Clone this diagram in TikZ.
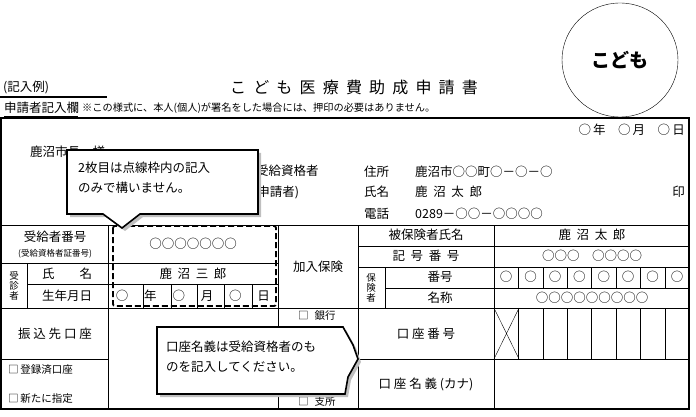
\documentclass[tikz,border=0pt]{standalone}
\usepackage{fontspec}
\setmainfont{Noto Sans CJK JP}
\usetikzlibrary{positioning}

\tikzset{
  lbl/.style={inner sep=0pt, font=\fontsize{12.5}{13}\selectfont},
  small/.style={inner sep=0pt, font=\fontsize{8.5}{9}\selectfont},
  callout/.style={draw, line width=1.6pt, fill=white},
  shade/.style={fill=black!25, draw=none}
}

\begin{document}
\begin{tikzpicture}[x=1pt,y=-1pt]
   \useasboundingbox (0,0) rectangle (696,417);

   % stamp and heading
   \draw (620,60) ellipse (58 and 57);
   \node[font=\fontsize{19}{19}\bfseries\selectfont] (kodomo) at (620,60) {こども};
   \node[lbl,anchor=west] (rei) at (3,88) {(記入例)};
   \draw[line width=1.4pt] (0,97) -- (107,97);
   \node[lbl,font=\fontsize{16}{16}\selectfont] (title) at (354,87) {こ\ \ ど\ \ も\ \ 医\ \ 療\ \ 費\ \ 助\ \ 成\ \ 申\ \ 請\ \ 書};
   \node[lbl,anchor=west] (ran) at (4,108) {申請者記入欄};
   \node[small,anchor=west,font=\fontsize{10.2}{10}\selectfont] (note) at (82,108) {※この様式に、本人(個人)が署名をした場合には、押印の必要はありません。};
   \draw (4,116) -- (78,116);

   % frame and rules
   \draw[line width=1.6pt] (1,118) rectangle (689,409);
   \draw (1,225) -- (689,225);
   \draw (1,308) -- (689,308);
   \draw (27,263) -- (27,308);
   \draw (108,225) -- (108,409);
   \draw (1,263) -- (278,263);
   \draw (27,284) -- (278,284);
   \draw (278,225) -- (278,409);
   \draw (358,225) -- (358,409);
   \draw (494,225) -- (494,409);
   \draw (385,267) -- (385,308);
   \draw (358,246) -- (689,246);
   \draw (358,267) -- (689,267);
   \draw (385,288) -- (689,288);
   \draw (1,359) -- (108,359);
   \draw (358,359) -- (689,359);
   \foreach \i in {1,...,7} {
     \draw (494+24.4*\i,267) -- (494+24.4*\i,288);
     \draw (494+24.4*\i,308) -- (494+24.4*\i,359);
   }
   \draw (494,308) -- (519,359) (519,308) -- (494,359);
   \foreach \xx in {143,171,197,224,252} \draw (\xx,284) -- (\xx,308);

   % applicant block
   \node[lbl,anchor=east] (date) at (685,130) {○\,年\quad○\,月\quad○\,日};
   \node[lbl,anchor=west] (mayor) at (30,152) {鹿沼市長\quad 様};
   \node[lbl,anchor=west] (shikaku) at (256,171) {受給資格者};
   \node[lbl,anchor=west] (shinsei) at (253,192) {(申請者)};
   \node[lbl,anchor=west] (jusho) at (364,172) {住所};
   \node[lbl,anchor=west] (jushov) at (415,172) {鹿沼市○○町○－○－○};
   \node[lbl,anchor=west] (shimei) at (364,192) {氏名};
   \node[lbl,anchor=west] (shimeiv) at (415,192) {鹿\ \ 沼\ \ 太\ \ 郎};
   \node[lbl,anchor=east] (in) at (685,192) {印};
   \node[lbl,anchor=west] (denwa) at (364,214) {電話};
   \node[lbl,anchor=west] (denwav) at (415,214) {0289－○○－○○○○};

   % recipient rows
   \node[lbl] (jukyu) at (55,237) {受給者番号};
   \node[small] (shosho) at (55,254) {(受給資格者証番号)};
   \node[lbl] (jukyuv) at (193,244) {○○○○○○○};
   \node[small,align=center,font=\fontsize{9.5}{10}\selectfont] (jushin) at (14,286) {受\\診\\者};
   \node[lbl] (shimei2) at (67,274) {氏\qquad 名};
   \node[lbl] (shimei2v) at (193,274) {鹿\ \ 沼\ \ 三\ \ 郎};
   \node[lbl] (seinen) at (67,296) {生年月日};
   \foreach \t [count=\k] in {○,年,○,月,○,日}
     \node[lbl] (sn\k) at ({108+(\k-0.5)*28.3},296) {\t};
   \draw[line width=1.8pt, dash pattern=on 6pt off 3pt, rounded corners=2pt] (113,226) rectangle (276,306);

   % insurance
   \node[lbl] (kanyu) at (318,267) {加入保険};
   \node[lbl] (hiho) at (426,235) {被保険者氏名};
   \node[lbl] (hihov) at (592,235) {鹿\ \ 沼\ \ 太\ \ 郎};
   \node[lbl] (kigo) at (426,256) {記\ \ 号\ \ 番\ \ 号};
   \node[lbl] (kigov) at (592,256) {○○○\quad○○○○};
   \node[small,align=center,font=\fontsize{9.5}{10}\selectfont] (hokensha) at (371,288) {保\\険\\者};
   \node[lbl] (bango) at (440,277) {番号};
   \foreach \k in {1,...,8}
     \node[lbl] (bc\k) at ({494+(\k-0.5)*24.4},277) {○};
   \node[lbl] (meisho) at (440,298) {名称};
   \node[lbl] (meishov) at (592,298) {○○○○○○○○○};

   % bank
   \node[lbl] (furikomi) at (55,334) {振\ 込\ 先\ 口\ 座};
   \node[small,font=\fontsize{10.5}{10}\selectfont,anchor=west] (toroku) at (8,370) {□\,登録済口座};
   \node[small,font=\fontsize{10.5}{10}\selectfont,anchor=west] (arata) at (8,399) {□\,新たに指定};
   \node[small,font=\fontsize{10.5}{10}\selectfont,anchor=west] (ginko) at (298,316) {□\;\;銀行};
   \node[small,font=\fontsize{10.5}{10}\selectfont,anchor=west] (kinko) at (298,337) {\phantom{□\;\;}金庫};
   \node[small,font=\fontsize{10.5}{10}\selectfont,anchor=west] (shisho) at (298,402) {□\;\;支所};
   \node[lbl] (koza) at (426,334) {口\ 座\ 番\ 号};
   \node[lbl] (meigi) at (426,384) {口\ 座\ 名\ 義\ (カナ)};

   % callouts
   \fill[shade] (70,153) -- (261,153) -- (261,217) -- (143,217) -- (125,231) -- (106,217) -- (70,217) -- cycle;
   \draw[callout] (67,150) -- (258,150) -- (258,214) -- (140,214) -- (122,228) -- (103,214) -- (67,214) -- cycle;
   \node[lbl,anchor=west] (note1) at (78,168) {2枚目は点線枠内の記入};
   \node[lbl,anchor=west] (note1b) at (78,188) {のみで構いません。};
   \fill[shade] (160,330) -- (346,330) -- (356,348) -- (361,362) -- (351,380) -- (348,397) -- (160,397) -- cycle;
   \draw[callout] (157,327) -- (343,327) -- (353,345) -- (358,359) -- (348,377) -- (345,394) -- (157,394) -- cycle;
   \node[lbl,anchor=west] (note2) at (166,347) {口座名義は受給資格者のも};
   \node[lbl,anchor=west] (note2b) at (166,367) {のを記入してください。};
\end{tikzpicture}
\end{document}
